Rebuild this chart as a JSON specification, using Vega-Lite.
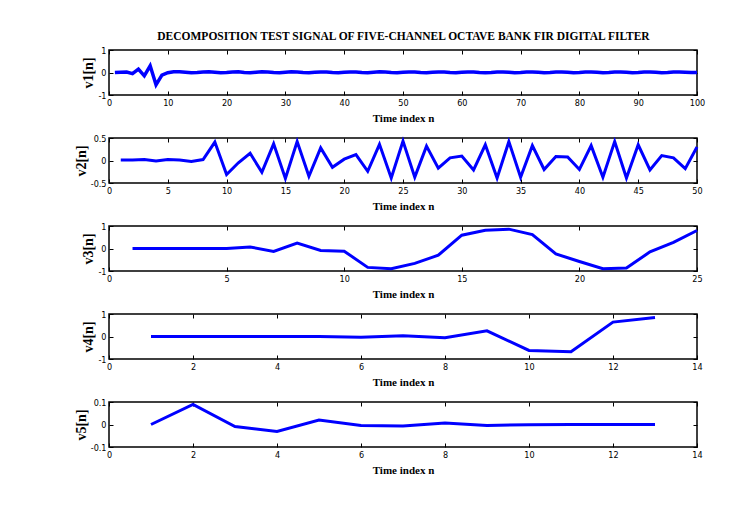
{
  "$schema": "https://vega.github.io/schema/vega-lite/v6.json",
  "background": "white",
  "padding": {"left": 73, "top": 30, "right": 5, "bottom": 5},
  "title": {"text": "DECOMPOSITION TEST SIGNAL OF FIVE-CHANNEL OCTAVE BANK FIR DIGITAL FILTER", "font": "Liberation Serif", "fontWeight": "bold", "fontSize": 11.5, "color": "black", "anchor": "middle", "offset": 3, "dx": 14},
  "config": {
    "view": {"stroke": "black", "strokeWidth": 1.5},
    "axis": {"domain": false, "grid": false, "tickSize": -4, "tickColor": "black", "tickWidth": 1, "labelFont": "Liberation Sans Narrow, DejaVu Sans Condensed, Arial", "labelFontSize": 9, "labelColor": "black", "labelPadding": 7, "titleFont": "Liberation Serif", "titleFontWeight": "bold", "titleFontSize": 11, "titleColor": "black", "labelExpr": "datum.value < 0 ? '-' + format(-datum.value, '~g') : format(datum.value, '~g')"},
    "axisY": {"titleFontSize": 14, "titlePadding": 2},
    "axisX": {"titlePadding": 5, "labelFlush": false}
  },
  "datasets": {
    "v1": [
      {"n":1,"v":0},{"n":2,"v":0.01},{"n":3,"v":0.02},{"n":4,"v":-0.05},{"n":5,"v":0.15},{"n":6,"v":-0.15},{"n":7,"v":0.3},{"n":8,"v":-0.55},{"n":9,"v":-0.12},{"n":10,"v":-0.01},
      {"n":11,"v":0.03},{"n":12,"v":0.03},{"n":13,"v":0.01},{"n":14,"v":-0.01},{"n":15,"v":0.0},{"n":16,"v":0.02},{"n":17,"v":0.03},{"n":18,"v":0.01},{"n":19,"v":-0.01},{"n":20,"v":0.0},
      {"n":21,"v":0.02},{"n":22,"v":0.03},{"n":23,"v":0.0},{"n":24,"v":-0.01},{"n":25,"v":0.01},{"n":26,"v":0.03},{"n":27,"v":0.02},{"n":28,"v":0.0},{"n":29,"v":-0.01},{"n":30,"v":0.01},
      {"n":31,"v":0.03},{"n":32,"v":0.02},{"n":33,"v":0.0},{"n":34,"v":-0.01},{"n":35,"v":0.01},{"n":36,"v":0.02},{"n":37,"v":0.02},{"n":38,"v":0.0},{"n":39,"v":-0.01},{"n":40,"v":0.01},
      {"n":41,"v":0.02},{"n":42,"v":0.02},{"n":43,"v":0.0},{"n":44,"v":-0.01},{"n":45,"v":0.01},{"n":46,"v":0.03},{"n":47,"v":0.02},{"n":48,"v":0.0},{"n":49,"v":-0.01},{"n":50,"v":0.01},
      {"n":51,"v":0.02},{"n":52,"v":0.02},{"n":53,"v":0.0},{"n":54,"v":-0.01},{"n":55,"v":0.01},{"n":56,"v":0.02},{"n":57,"v":0.02},{"n":58,"v":0.0},{"n":59,"v":-0.01},{"n":60,"v":0.01},
      {"n":61,"v":0.02},{"n":62,"v":0.02},{"n":63,"v":0.0},{"n":64,"v":-0.01},{"n":65,"v":0.0},{"n":66,"v":0.02},{"n":67,"v":0.02},{"n":68,"v":0.01},{"n":69,"v":-0.01},{"n":70,"v":0.0},
      {"n":71,"v":0.02},{"n":72,"v":0.02},{"n":73,"v":0.01},{"n":74,"v":-0.01},{"n":75,"v":0.0},{"n":76,"v":0.02},{"n":77,"v":0.02},{"n":78,"v":0.01},{"n":79,"v":-0.01},{"n":80,"v":0.0},
      {"n":81,"v":0.02},{"n":82,"v":0.02},{"n":83,"v":0.01},{"n":84,"v":-0.01},{"n":85,"v":0.0},{"n":86,"v":0.02},{"n":87,"v":0.02},{"n":88,"v":0.01},{"n":89,"v":-0.01},{"n":90,"v":0.0},
      {"n":91,"v":0.02},{"n":92,"v":0.02},{"n":93,"v":0.01},{"n":94,"v":-0.01},{"n":95,"v":0.0},{"n":96,"v":0.02},{"n":97,"v":0.02},{"n":98,"v":0.01},{"n":99,"v":0.0},{"n":100,"v":0.0}
    ],
    "v2": [
      {"n":1,"v":0.01},{"n":2,"v":0.01},{"n":3,"v":0.02},{"n":4,"v":-0.01},{"n":5,"v":0.02},{"n":6,"v":0.01},{"n":7,"v":-0.02},{"n":8,"v":0.02},{"n":9,"v":0.41},{"n":10,"v":-0.31},
      {"n":11,"v":-0.05},{"n":12,"v":0.16},{"n":13,"v":-0.26},{"n":14,"v":0.37},{"n":15,"v":-0.4},{"n":16,"v":0.42},{"n":17,"v":-0.35},{"n":18,"v":0.28},{"n":19,"v":-0.15},{"n":20,"v":0.03},
      {"n":21,"v":0.13},{"n":22,"v":-0.24},{"n":23,"v":0.36},{"n":24,"v":-0.39},{"n":25,"v":0.43},{"n":26,"v":-0.37},{"n":27,"v":0.32},{"n":28,"v":-0.17},{"n":29,"v":0.06},{"n":30,"v":0.1},
      {"n":31,"v":-0.21},{"n":32,"v":0.35},{"n":33,"v":-0.39},{"n":34,"v":0.42},{"n":35,"v":-0.37},{"n":36,"v":0.33},{"n":37,"v":-0.2},{"n":38,"v":0.09},{"n":39,"v":0.08},{"n":40,"v":-0.2},
      {"n":41,"v":0.33},{"n":42,"v":-0.37},{"n":43,"v":0.42},{"n":44,"v":-0.39},{"n":45,"v":0.35},{"n":46,"v":-0.21},{"n":47,"v":0.11},{"n":48,"v":0.06},{"n":49,"v":-0.18},{"n":50,"v":0.3}
    ],
    "v3": [
      {"n":1,"v":0},{"n":2,"v":0},{"n":3,"v":0},{"n":4,"v":0},{"n":5,"v":0},{"n":6,"v":0.07},{"n":7,"v":-0.13},{"n":8,"v":0.24},{"n":9,"v":-0.09},{"n":10,"v":-0.12},
      {"n":11,"v":-0.84},{"n":12,"v":-0.9},{"n":13,"v":-0.66},{"n":14,"v":-0.3},{"n":15,"v":0.59},{"n":16,"v":0.81},{"n":17,"v":0.86},{"n":18,"v":0.62},{"n":19,"v":-0.24},{"n":20,"v":-0.58},
      {"n":21,"v":-0.9},{"n":22,"v":-0.87},{"n":23,"v":-0.15},{"n":24,"v":0.27},{"n":25,"v":0.8}
    ],
    "v4": [
      {"n":1,"v":0},{"n":2,"v":0},{"n":3,"v":0},{"n":4,"v":0},{"n":5,"v":0},{"n":6,"v":-0.03},{"n":7,"v":0.03},{"n":8,"v":-0.06},{"n":9,"v":0.25},{"n":10,"v":-0.62},
      {"n":11,"v":-0.68},{"n":12,"v":0.64},{"n":13,"v":0.84}
    ],
    "v5": [
      {"n":1,"v":0},{"n":2,"v":0.089},{"n":3,"v":-0.009},{"n":4,"v":-0.031},{"n":5,"v":0.02},{"n":6,"v":-0.004},{"n":7,"v":-0.007},{"n":8,"v":0.007},{"n":9,"v":-0.004},{"n":10,"v":-0.001},
      {"n":11,"v":0},{"n":12,"v":0},{"n":13,"v":0}
    ]
  },
  "spacing": 43,
  "bounds": "flush",
  "vconcat": [
    {
      "width": 588, "height": 45,
      "data": {"name": "v1"},
      "layer": [
        {"mark": {"type": "line", "color": "#0000ff", "strokeWidth": 3.5},
         "encoding": {
           "x": {"field": "n", "type": "quantitative", "scale": {"domain": [0, 100], "nice": false}, "axis": {"orient": "bottom", "values": [0,10,20,30,40,50,60,70,80,90,100], "title": "Time index n"}},
           "y": {"field": "v", "type": "quantitative", "scale": {"domain": [-1, 1], "nice": false}, "axis": {"orient": "left", "values": [-1,0,1], "title": "v1[n]"}}}},
        {"mark": {"type": "line", "opacity": 0},
         "encoding": {
           "x": {"field": "n", "type": "quantitative", "axis": {"orient": "top", "values": [0,10,20,30,40,50,60,70,80,90,100], "labels": false, "title": null}},
           "y": {"field": "v", "type": "quantitative", "axis": {"orient": "right", "values": [-1,0,1], "labels": false, "title": null}}}}
      ],
      "resolve": {"axis": {"x": "independent", "y": "independent"}}
    },
    {
      "width": 588, "height": 45,
      "data": {"name": "v2"},
      "layer": [
        {"mark": {"type": "line", "color": "#0000ff", "strokeWidth": 3},
         "encoding": {
           "x": {"field": "n", "type": "quantitative", "scale": {"domain": [0, 50], "nice": false}, "axis": {"orient": "bottom", "values": [0,5,10,15,20,25,30,35,40,45,50], "title": "Time index n"}},
           "y": {"field": "v", "type": "quantitative", "scale": {"domain": [-0.5, 0.5], "nice": false}, "axis": {"orient": "left", "values": [-0.5,0,0.5], "title": "v2[n]"}}}},
        {"mark": {"type": "line", "opacity": 0},
         "encoding": {
           "x": {"field": "n", "type": "quantitative", "axis": {"orient": "top", "values": [0,5,10,15,20,25,30,35,40,45,50], "labels": false, "title": null}},
           "y": {"field": "v", "type": "quantitative", "axis": {"orient": "right", "values": [-0.5,0,0.5], "labels": false, "title": null}}}}
      ],
      "resolve": {"axis": {"x": "independent", "y": "independent"}}
    },
    {
      "width": 588, "height": 45,
      "data": {"name": "v3"},
      "layer": [
        {"mark": {"type": "line", "color": "#0000ff", "strokeWidth": 3},
         "encoding": {
           "x": {"field": "n", "type": "quantitative", "scale": {"domain": [0, 25], "nice": false}, "axis": {"orient": "bottom", "values": [0,5,10,15,20,25], "title": "Time index n"}},
           "y": {"field": "v", "type": "quantitative", "scale": {"domain": [-1, 1], "nice": false}, "axis": {"orient": "left", "values": [-1,0,1], "title": "v3[n]"}}}},
        {"mark": {"type": "line", "opacity": 0},
         "encoding": {
           "x": {"field": "n", "type": "quantitative", "axis": {"orient": "top", "values": [0,5,10,15,20,25], "labels": false, "title": null}},
           "y": {"field": "v", "type": "quantitative", "axis": {"orient": "right", "values": [-1,0,1], "labels": false, "title": null}}}}
      ],
      "resolve": {"axis": {"x": "independent", "y": "independent"}}
    },
    {
      "width": 588, "height": 45,
      "data": {"name": "v4"},
      "layer": [
        {"mark": {"type": "line", "color": "#0000ff", "strokeWidth": 3},
         "encoding": {
           "x": {"field": "n", "type": "quantitative", "scale": {"domain": [0, 14], "nice": false}, "axis": {"orient": "bottom", "values": [0,2,4,6,8,10,12,14], "title": "Time index n"}},
           "y": {"field": "v", "type": "quantitative", "scale": {"domain": [-1, 1], "nice": false}, "axis": {"orient": "left", "values": [-1,0,1], "title": "v4[n]"}}}},
        {"mark": {"type": "line", "opacity": 0},
         "encoding": {
           "x": {"field": "n", "type": "quantitative", "axis": {"orient": "top", "values": [0,2,4,6,8,10,12,14], "labels": false, "title": null}},
           "y": {"field": "v", "type": "quantitative", "axis": {"orient": "right", "values": [-1,0,1], "labels": false, "title": null}}}}
      ],
      "resolve": {"axis": {"x": "independent", "y": "independent"}}
    },
    {
      "width": 588, "height": 45,
      "data": {"name": "v5"},
      "layer": [
        {"mark": {"type": "line", "color": "#0000ff", "strokeWidth": 3},
         "encoding": {
           "x": {"field": "n", "type": "quantitative", "scale": {"domain": [0, 14], "nice": false}, "axis": {"orient": "bottom", "values": [0,2,4,6,8,10,12,14], "title": "Time index n"}},
           "y": {"field": "v", "type": "quantitative", "scale": {"domain": [-0.1, 0.1], "nice": false}, "axis": {"orient": "left", "values": [-0.1,0,0.1], "title": "v5[n]"}}}},
        {"mark": {"type": "line", "opacity": 0},
         "encoding": {
           "x": {"field": "n", "type": "quantitative", "axis": {"orient": "top", "values": [0,2,4,6,8,10,12,14], "labels": false, "title": null}},
           "y": {"field": "v", "type": "quantitative", "axis": {"orient": "right", "values": [-0.1,0,0.1], "labels": false, "title": null}}}}
      ],
      "resolve": {"axis": {"x": "independent", "y": "independent"}}
    }
  ]
}
